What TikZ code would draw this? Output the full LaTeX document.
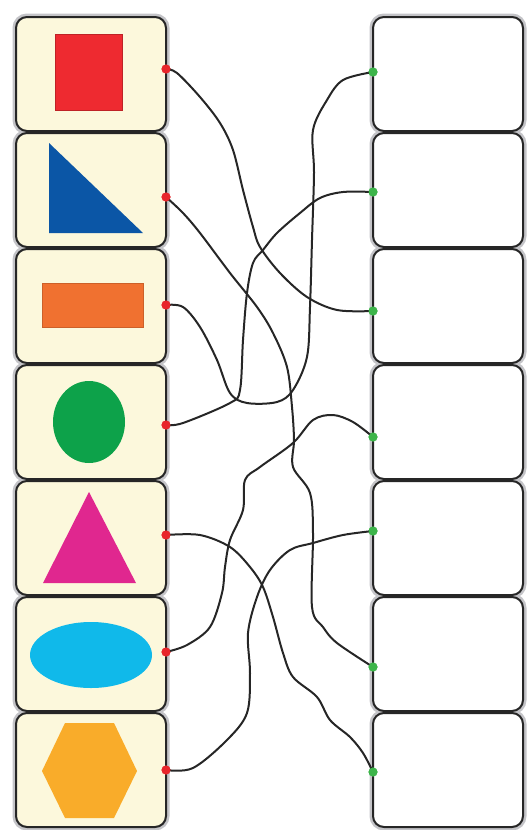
\documentclass[tikz,border=0pt]{standalone}
\definecolor{cream}{HTML}{FCF8DC}
\definecolor{halogray}{HTML}{C4C4C8}
\definecolor{edge}{HTML}{262626}
\definecolor{dotred}{HTML}{E8262B}
\definecolor{dotgreen}{HTML}{3DB54A}
\definecolor{sqred}{HTML}{EE2A30}
\definecolor{triblue}{HTML}{0B56A6}
\definecolor{rectorange}{HTML}{F07130}
\definecolor{circgreen}{HTML}{0DA24A}
\definecolor{trimagenta}{HTML}{E0278F}
\definecolor{ellcyan}{HTML}{10B9EA}
\definecolor{hexorange}{HTML}{F9AC2A}
\begin{document}
\begin{tikzpicture}[x=1pt,y=-1pt,
  halo/.style={draw=halogray, line width=7pt, rounded corners=11pt},
  leftbox/.style={draw=edge, fill=cream, line width=2pt, rounded corners=11pt, minimum width=150pt, minimum height=114pt, inner sep=0pt},
  rightbox/.style={draw=edge, fill=white, line width=2pt, rounded corners=11pt, minimum width=150pt, minimum height=114pt, inner sep=0pt},
  wire/.style={draw=edge, line width=2pt, line cap=round, line join=round},
  rdot/.style={circle, fill=dotred, inner sep=0pt, minimum size=9pt},
  gdot/.style={circle, fill=dotgreen, inner sep=0pt, minimum size=9pt}]
\useasboundingbox (0,0) rectangle (527,830);
% halos
\foreach \i in {1,...,7}{
  \pgfmathsetmacro\cy{74+116*(\i-1)}
  \draw[halo] (16,\cy-57) rectangle (166,\cy+57);
  \draw[halo] (373,\cy-57) rectangle (523,\cy+57);
}
% boxes
\foreach \i in {1,...,7}{
  \pgfmathsetmacro\cy{74+116*(\i-1)}
  \node[leftbox] (L\i) at (91,\cy) {};
  \node[rightbox] (R\i) at (448,\cy) {};
}
% shapes
\fill[sqred, draw=sqred!80!black, line width=0.4pt] (55,34) rectangle (122,110);
\fill[triblue] (49,143) -- (49,233) -- (143,233) -- cycle;
\fill[rectorange, draw=rectorange!85!black, line width=0.4pt] (42,283) rectangle (143,327);
\fill[circgreen] (89,422) ellipse [x radius=36, y radius=41];
\fill[trimagenta] (89,492) -- (136,583) -- (43,583) -- cycle;
\fill[ellcyan] (91,655) ellipse [x radius=61, y radius=33];
\fill[hexorange] (42,771) -- (65,723) -- (114,723) -- (137,771) -- (114,818) -- (65,818) -- cycle;
% dots
\foreach \n/\y in {1/69,2/197,3/305,4/425,5/535,6/652,7/770}{
  \node[rdot] (r\n) at (166,\y) {};
}
\foreach \n/\y in {1/72,2/192,3/311,4/437,5/531,6/667,7/772}{
  \node[gdot] (g\n) at (373,\y) {};
}
% wires
\draw[wire] plot[smooth, tension=0.55] coordinates {(r1.center) (177,73) (200,97) (220,123) (233,150) (243,190) (253,227) (260,247) (280,273) (307,297) (337,310) (g3.center)};
\draw[wire] plot[smooth, tension=0.55] coordinates {(r2.center) (183,213) (200,233) (230,273) (257,307) (273,333) (287,367) (292,407) (294,440) (293,467) (310,493) (313,533) (312,607) (323,627) (337,643) (g6.center)};
\draw[wire] plot[smooth, tension=0.55] coordinates {(r3.center) (183,307) (200,327) (217,360) (230,393) (247,403) (277,402) (293,390) (307,357) (310,307) (312,240) (314,173) (313,130) (327,100) (343,80) (g1.center)};
\draw[wire] plot[smooth, tension=0.55] coordinates {(r4.center) (183,423) (230,403) (240,390) (243,340) (247,293) (253,263) (263,250) (277,233) (300,213) (320,198) (343,192) (g2.center)};
\draw[wire] plot[smooth, tension=0.55] coordinates {(r5.center) (200,535) (230,547) (250,567) (263,587) (273,617) (283,653) (293,677) (317,697) (330,720) (350,737) (363,753) (g7.center)};
\draw[wire] plot[smooth, tension=0.55] coordinates {(r6.center) (187,645) (210,627) (222,593) (225,567) (230,540) (243,510) (245,480) (260,467) (293,443) (313,420) (333,415) (353,422) (g4.center)};
\draw[wire] plot[smooth, tension=0.55] coordinates {(r7.center) (193,768) (227,740) (247,713) (250,673) (248,633) (257,597) (270,570) (290,550) (313,543) (343,535) (g5.center)};
% dots on top of wires
\foreach \n in {1,...,7}{
  \fill[dotred] (r\n) circle (4.5pt);
  \fill[dotgreen] (g\n) circle (4.5pt);
}
\end{tikzpicture}
\end{document}
